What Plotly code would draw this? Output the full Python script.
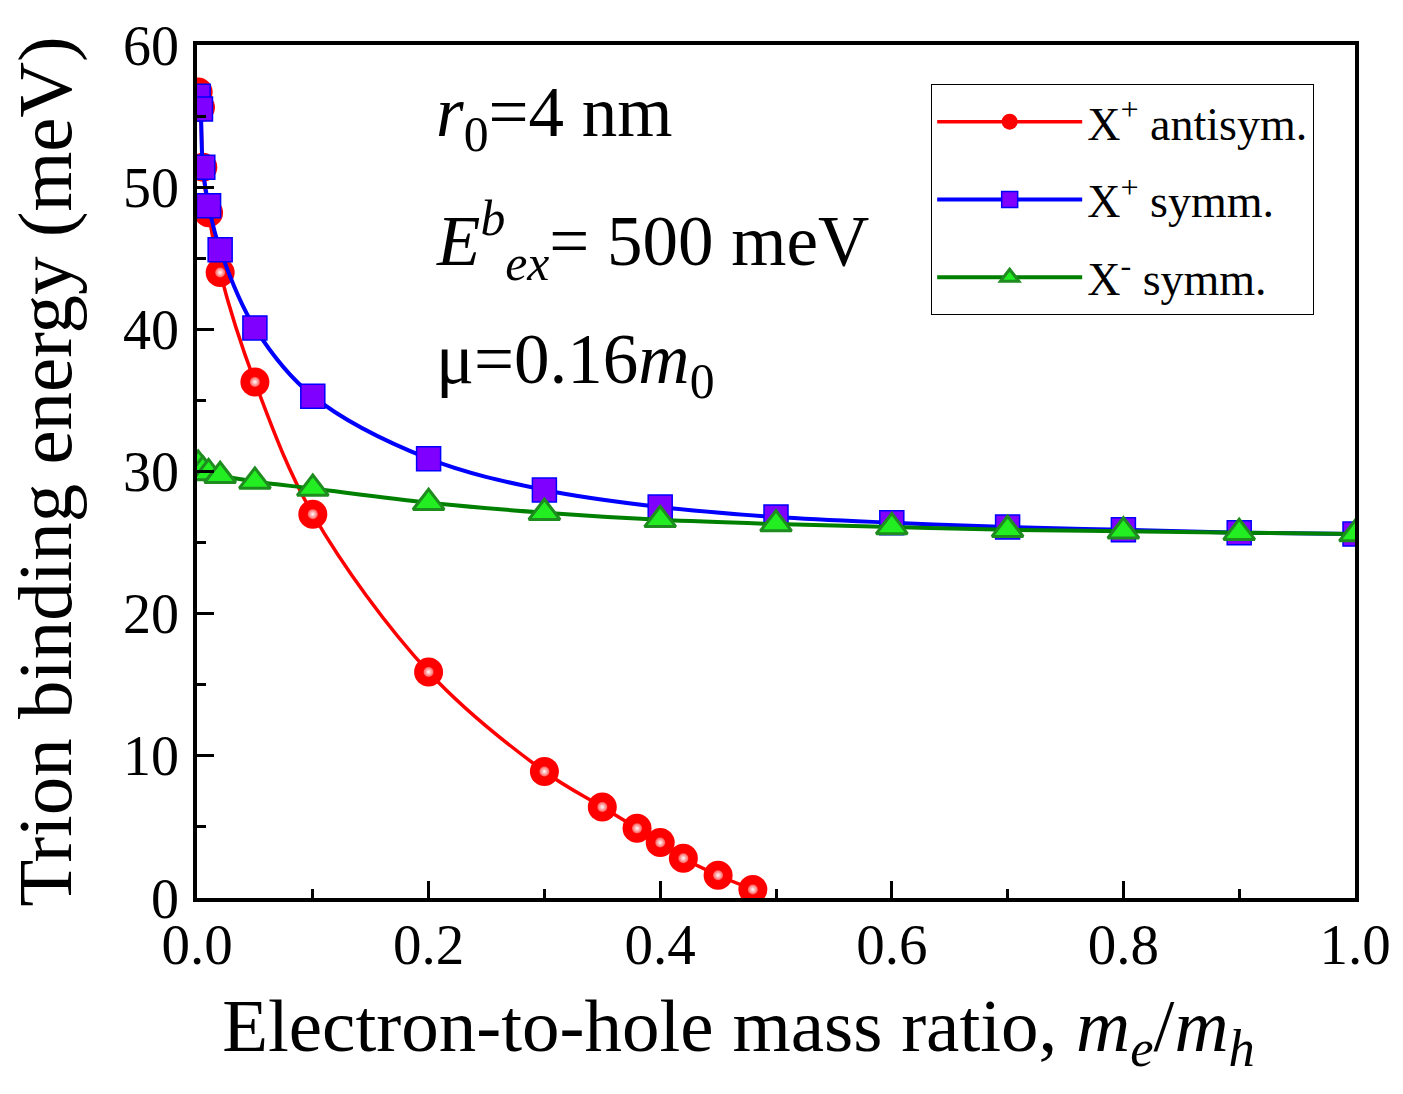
import plotly.graph_objects as go

# ---- data ----
x_red = [0.001, 0.003, 0.005, 0.01, 0.02, 0.05, 0.1, 0.2, 0.3, 0.35, 0.38, 0.4, 0.42, 0.45, 0.48]
y_red = [56.7, 55.6, 51.4, 48.2, 44.0, 36.3, 27.0, 15.9, 8.9, 6.4, 4.9, 3.9, 2.8, 1.6, 0.6]

x_blue = [0.001, 0.003, 0.005, 0.01, 0.02, 0.05, 0.1, 0.2, 0.3, 0.4, 0.5, 0.6, 0.7, 0.8, 0.9, 1.0]
y_blue = [56.4, 55.5, 51.4, 48.7, 45.6, 40.1, 35.3, 30.9, 28.7, 27.5, 26.8, 26.4, 26.1, 25.9, 25.7, 25.6]

x_green = [0.001, 0.005, 0.01, 0.02, 0.05, 0.1, 0.2, 0.3, 0.4, 0.5, 0.6, 0.7, 0.8, 0.9, 1.0]
y_green = [30.5, 30.1, 29.9, 29.7, 29.3, 28.8, 27.8, 27.1, 26.6, 26.3, 26.1, 25.9, 25.8, 25.7, 25.6]

name_red = "X<sup>+</sup> antisym."
name_blue = "X<sup>+</sup> symm."
name_green = "X<sup>-</sup> symm."

x_ticks = [0.0, 0.2, 0.4, 0.6, 0.8, 1.0]
x_ticklabels = ["0.0", "0.2", "0.4", "0.6", "0.8", "1.0"]
y_ticks = [0, 10, 20, 30, 40, 50, 60]

FONT = "Liberation Serif, Times New Roman, serif"

fig = go.Figure()

fig.add_trace(go.Scatter(
    x=x_red, y=y_red, mode="lines+markers", name=name_red, legendgroup="a",
    line=dict(color="#FF0000", width=3.5, shape="spline", smoothing=1.0),
    marker=dict(symbol="circle", size=29, color="#FF0000", line=dict(width=0)),
))
# highlight for sphere look
fig.add_trace(go.Scatter(
    x=x_red, y=y_red, mode="markers", showlegend=False, hoverinfo="skip",
    marker=dict(symbol="circle", size=10, color="#FF5A5A",
                gradient=dict(type="radial", color="#FFFFFF"), line=dict(width=0)),
))

fig.add_trace(go.Scatter(
    x=x_blue, y=y_blue, mode="lines+markers", name=name_blue, legendgroup="b",
    line=dict(color="#0000FF", width=4, shape="spline", smoothing=1.0),
    marker=dict(symbol="square", size=24, color="#7F00FF", line=dict(color="#0000FF", width=1.5)),
))

fig.add_trace(go.Scatter(
    x=x_green, y=y_green, mode="lines+markers", name=name_green, legendgroup="c",
    line=dict(color="#008000", width=4, shape="spline", smoothing=1.0),
    marker=dict(symbol="triangle-up", size=27, color="#22EE22", line=dict(color="#1E8C1E", width=3)),
))

fig.update_layout(
    width=1403, height=1094,
    margin=dict(l=197, r=46, t=45, b=196),
    paper_bgcolor="white", plot_bgcolor="white",
    font=dict(family=FONT, color="black"),
    showlegend=True,
    legend=dict(
        x=0.634, y=0.954, xanchor="left", yanchor="top",
        bordercolor="black", borderwidth=1, bgcolor="white",
        font=dict(family=FONT, size=46, color="black"),
        tracegroupgap=15, itemwidth=145,
    ),
    xaxis=dict(
        range=[0, 1.0], tickvals=x_ticks, ticktext=x_ticklabels,
        ticks="inside", ticklen=17, tickwidth=3, tickcolor="black",
        minor=dict(dtick=0.1, ticks="inside", ticklen=9, tickwidth=3, tickcolor="black"),
        showline=True, linewidth=3.5, linecolor="black", mirror=True,
        showgrid=False, zeroline=False,
        tickfont=dict(family=FONT, size=57), ticklabelstandoff=-6,
        title=dict(text="Electron-to-hole mass ratio, <i>m</i><sub><i>e</i></sub>/<i>m</i><sub><i>h</i></sub>&nbsp;&nbsp;&nbsp;&nbsp;",
                   font=dict(family=FONT, size=75), standoff=24),
    ),
    yaxis=dict(
        range=[0, 60], tickvals=y_ticks,
        ticks="inside", ticklen=17, tickwidth=3, tickcolor="black",
        minor=dict(dtick=5, ticks="inside", ticklen=9, tickwidth=3, tickcolor="black"),
        showline=True, linewidth=3.5, linecolor="black", mirror=True,
        showgrid=False, zeroline=False,
        tickfont=dict(family=FONT, size=56), ticklabelstandoff=3,
        title=dict(text="Trion binding energy (meV)", font=dict(family=FONT, size=77), standoff=27),
    ),
)

ann_font = dict(family=FONT, size=71, color="black")
fig.add_annotation(xref="paper", yref="paper", x=0.205, y=0.915, xanchor="left", yanchor="middle",
                   text="<i>r</i><sub>0</sub>=4 nm", showarrow=False, font=ann_font)
fig.add_annotation(xref="paper", yref="paper", x=0.205, y=0.77, xanchor="left", yanchor="middle",
                   text="<i>E</i><sup><i>b</i></sup><sub><i>ex</i></sub>= 500 meV", showarrow=False, font=ann_font)
fig.add_annotation(xref="paper", yref="paper", x=0.205, y=0.625, xanchor="left", yanchor="middle",
                   text="μ=0.16<i>m</i><sub>0</sub>", showarrow=False, font=ann_font)

fig.write_html("out.html")
